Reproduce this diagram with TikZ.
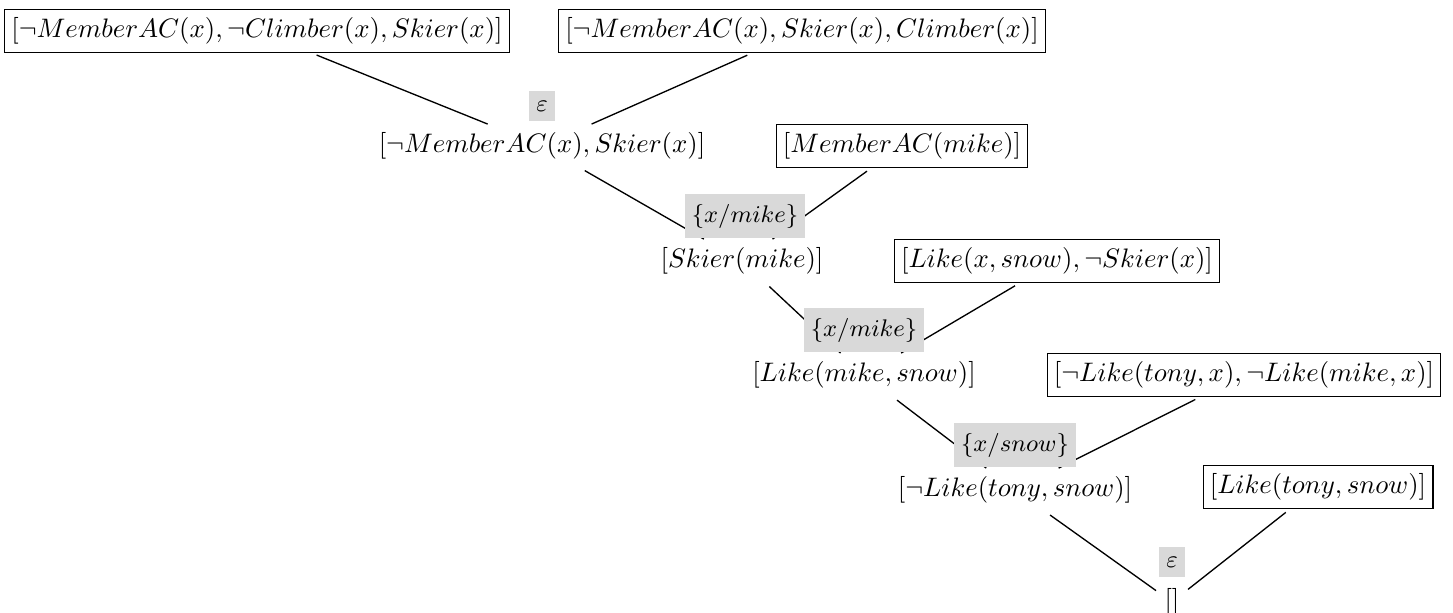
\documentclass[tikz,border=0pt]{standalone}
\begin{document}
\begin{tikzpicture}[x=0.374pt,y=-0.374pt,
  clause/.style={draw,line width=0.5pt,inner xsep=2.5pt,inner ysep=3pt},
  derived/.style={inner sep=3pt},
  sublabel/.style={fill=gray!30,inner xsep=2.6pt,inner ysep=3.8pt,font=\small},
  edge/.style={line width=0.5pt,shorten <=2pt}]
\useasboundingbox (0,0) rectangle (1453,613);
\node[clause] (b1) at (257,31) {$[\neg MemberAC(x), \neg Climber(x), Skier(x)]$};
\node[clause] (b2) at (802,31) {$[\neg MemberAC(x), Skier(x), Climber(x)]$};
\node[derived] (d1) at (542,146) {$[\neg MemberAC(x), Skier(x)]$};
\node[clause] (b3) at (902,146) {$[MemberAC(mike)]$};
\node[derived] (d2) at (742,261) {$[Skier(mike)]$};
\node[clause] (b4) at (1057,261) {$[Like(x, snow), \neg Skier(x)]$};
\node[derived] (d3) at (864,375) {$[Like(mike, snow)]$};
\node[clause] (b5) at (1244,375) {$[\neg Like(tony, x), \neg Like(mike, x)]$};
\node[derived] (d4) at (1015,490) {$[\neg Like(tony, snow)]$};
\node[clause] (b6) at (1318,487) {$[Like(tony, snow)]$};
\node[derived] (d5) at (1172,602) {$[]$};
\draw[edge] (b1) -- (d1);
\draw[edge] (b2) -- (d1);
\draw[edge] (d1) -- (d2);
\draw[edge] (b3) -- (d2);
\draw[edge] (d2) -- (d3);
\draw[edge] (b4) -- (d3);
\draw[edge] (d3) -- (d4);
\draw[edge] (b5) -- (d4);
\draw[edge] (d4) -- (d5);
\draw[edge] (b6) -- (d5);
\node[sublabel] (l1) at (542,106) {$\varepsilon$};
\node[sublabel] (l2) at (745,216) {$\{x/mike\}$};
\node[sublabel] (l3) at (864,330) {$\{x/mike\}$};
\node[sublabel] (l4) at (1015,445) {$\{x/snow\}$};
\node[sublabel] (l5) at (1172,562) {$\varepsilon$};
\end{tikzpicture}
\end{document}
